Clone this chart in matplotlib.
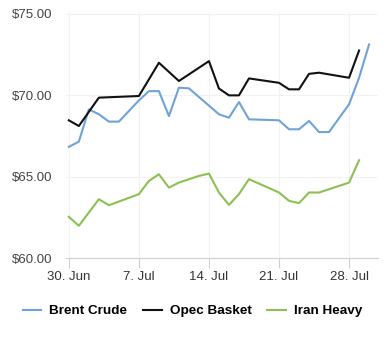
import matplotlib.pyplot as plt

# day offsets from 30 Jun
brent_days = [0, 1, 2, 3, 4, 5, 7, 8, 9, 10, 11, 12, 15, 16, 17, 18, 21, 22, 23, 24, 25, 26, 28, 29, 30]
brent = [66.82, 67.14, 69.12, 68.82, 68.37, 68.37, 69.67, 70.24, 70.24, 68.71, 70.45, 70.41,
         68.82, 68.61, 69.57, 68.51, 68.45, 67.90, 67.90, 68.41, 67.73, 67.73, 69.43, 71.06, 73.1]

opec_days = [0, 1, 3, 7, 9, 11, 14, 15, 16, 17, 18, 21, 22, 23, 24, 25, 28, 29]
opec = [68.45, 68.1, 69.84, 69.94, 71.98, 70.86, 72.08, 70.4, 69.98, 69.98, 71.02, 70.75,
        70.35, 70.35, 71.3, 71.37, 71.06, 72.73]

iran_days = [0, 1, 3, 4, 7, 8, 9, 10, 11, 13, 14, 15, 16, 17, 18, 21, 22, 23, 24, 25, 28, 29]
iran = [62.53, 61.98, 63.61, 63.24, 63.92, 64.73, 65.14, 64.32, 64.63, 65.04, 65.18, 64.02,
        63.26, 63.92, 64.84, 64.02, 63.51, 63.37, 64.02, 64.02, 64.63, 66.0]

tick_days = [0, 7, 14, 21, 28]
tick_labels = ['30. Jun', '7. Jul', '14. Jul', '21. Jul', '28. Jul']
y_ticks = [60, 65, 70, 75]

plt.rcParams['font.family'] = ['Liberation Sans', 'DejaVu Sans']

fig = plt.figure(figsize=(3.85, 3.4), dpi=100)
ax = fig.add_axes([0.171, 0.241, 0.811, 0.724])

ax.plot(brent_days, brent, color='#6fa3d8', lw=1.5, label='Brent Crude')
ax.plot(opec_days, opec, color='#111111', lw=1.5, label='Opec Basket')
ax.plot(iran_days, iran, color='#8cc152', lw=1.5, label='Iran Heavy')

ax.set_xlim(-0.3, 30.9)
ax.set_ylim(60, 75.1)
ax.set_xticks(tick_days)
ax.set_xticklabels(tick_labels, fontsize=9.5, color='#333333')
ax.set_yticks(y_ticks)
ax.set_yticklabels(['$%.2f' % v for v in y_ticks], fontsize=9.5, color='#444444')
ax.grid(True, color='#f2f2f2', lw=0.8)
ax.set_axisbelow(True)
for s in ['top', 'right', 'left']:
    ax.spines[s].set_visible(False)
ax.spines['bottom'].set_color('#d0d0d0')
ax.tick_params(axis='x', length=7, color='#d0d0d0', pad=2)
ax.tick_params(axis='y', length=0, pad=10)

fig.legend(loc='center', bbox_to_anchor=(0.5, 0.085), ncol=3, frameon=False,
           prop={'weight': 'bold', 'size': 9.7}, handlelength=1.4, columnspacing=1.15,
           handletextpad=0.6)

fig.savefig('out.png', dpi=100)
